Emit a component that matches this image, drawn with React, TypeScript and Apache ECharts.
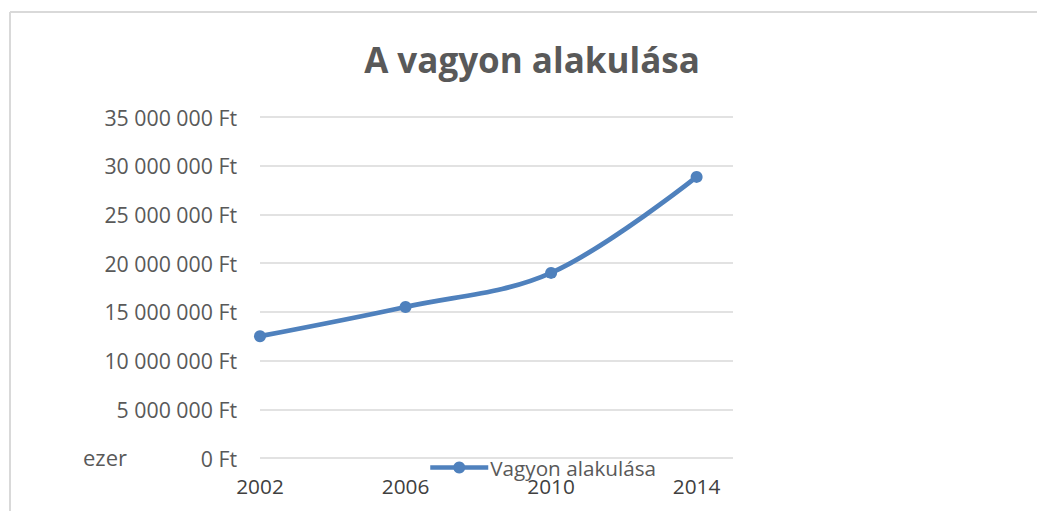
import React, { useEffect, useRef } from "react";
import * as echarts from "echarts";

const years = [2002, 2006, 2010, 2014];
const values = [12500000, 15500000, 19000000, 28850000];
const seriesName = "Vagyon alakulása";
const titleText = "A vagyon alakulása";
const unitNote = "ezer";

const fmtFt = (v: number) =>
  String(Math.round(v)).replace(/\B(?=(\d{3})+(?!\d))/g, " ") + " Ft";

export default function App() {
  const ref = useRef<HTMLDivElement>(null);
  useEffect(() => {
    document.body.style.margin = "0";
    const chart = echarts.init(ref.current!, undefined, { renderer: "svg" });
    const font = "'Open Sans', sans-serif";
    chart.setOption({
      animation: false,
      backgroundColor: "#ffffff",
      title: {
        text: titleText,
        left: 527,
        textAlign: "center",
        top: 37,
        textStyle: { fontFamily: font, fontSize: 35, fontWeight: "bold", color: "#595959" },
      },
      legend: {
        left: 423,
        top: 452,
        itemWidth: 58,
        itemHeight: 15,
        itemGap: 0,
        lineStyle: { width: 4.5 },
        textStyle: { fontFamily: font, fontSize: 20.7, color: "#595959", padding: [0, 0, 0, -3] },
        data: [seriesName],
      },
      grid: { left: 260, right: 304, top: 117, bottom: 53 },
      xAxis: {
        type: "value",
        min: 2002,
        max: 2015,
        interval: 1,
        axisLine: { show: false },
        axisTick: { show: false },
        splitLine: { show: false },
        axisLabel: {
          margin: 17,
          fontFamily: font,
          fontSize: 20.8,
          color: "#404040",
          showMaxLabel: false,
          formatter: (v: number) => (years.indexOf(v) >= 0 ? String(v) : ""),
        },
      },
      yAxis: {
        type: "value",
        min: 0,
        max: 35000000,
        interval: 5000000,
        axisLine: { show: false },
        axisTick: { show: false },
        splitLine: { lineStyle: { color: "#d9d9d9", width: 1.5 } },
        axisLabel: {
          margin: 23,
          fontFamily: font,
          fontSize: 21.3,
          color: "#595959",
          formatter: fmtFt,
        },
      },
      series: [
        {
          name: seriesName,
          type: "line",
          data: years.map((y, i) => [y, values[i]]),
          smooth: 0.35,
          symbol: "circle",
          symbolSize: 12,
          lineStyle: { color: "#4f81bd", width: 4.8 },
          itemStyle: { color: "#4f81bd" },
        },
      ],
      graphic: [
        {
          type: "line",
          shape: { x1: 10, y1: 12, x2: 10, y2: 511 },
          style: { stroke: "#d9d9d9", lineWidth: 2 },
        },
        {
          type: "line",
          shape: { x1: 10, y1: 12, x2: 1037, y2: 12 },
          style: { stroke: "#d9d9d9", lineWidth: 2 },
        },
        {
          type: "text",
          left: 83,
          top: 446,
          style: { text: unitNote, fontFamily: font, fontSize: 22, fill: "#595959" },
        },
      ],
    });
    return () => chart.dispose();
  }, []);
  return <div ref={ref} style={{ width: 1037, height: 511 }} />;
}
